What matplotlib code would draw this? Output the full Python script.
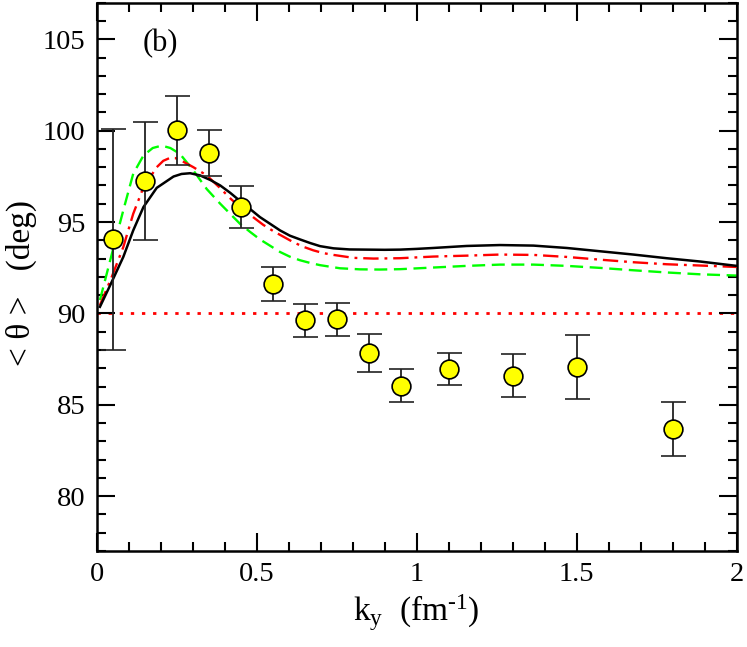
import matplotlib
matplotlib.use("Agg")
import matplotlib.pyplot as plt
from matplotlib.ticker import MultipleLocator

plt.rcParams['font.family'] = ['Liberation Serif', 'DejaVu Serif']
plt.rcParams['mathtext.fontset'] = 'custom'
plt.rcParams['mathtext.rm'] = 'Liberation Serif'
plt.rcParams['mathtext.it'] = 'Liberation Serif:italic'

# experimental points
exp_k = [0.05, 0.15, 0.25, 0.35, 0.45, 0.55, 0.65, 0.75, 0.85, 0.95, 1.10, 1.30, 1.50, 1.80]
exp_theta = [94.05, 97.27, 100.02, 98.76, 95.82, 91.62, 89.63, 89.67, 87.82, 86.05, 86.94, 86.60, 87.07, 83.67]
exp_err = [6.05, 3.23, 1.9, 1.25, 1.17, 0.93, 0.91, 0.89, 1.05, 0.92, 0.87, 1.18, 1.73, 1.46]

# black solid curve
k_black = [0.010, 0.042, 0.083, 0.114, 0.146, 0.1875, 0.24, 0.265, 0.292, 0.323, 0.355, 0.386, 0.417,
           0.448, 0.48, 0.51, 0.542, 0.573, 0.604, 0.635, 0.667, 0.698, 0.74, 0.79, 0.844, 0.9, 0.948,
           1.0, 1.052, 1.156, 1.26, 1.365, 1.469, 1.573, 1.677, 1.781, 1.885, 2.0]
th_black = [90.36, 91.54, 93.09, 94.54, 95.82, 96.87, 97.49, 97.63, 97.67, 97.55, 97.3, 97.0, 96.6,
            96.15, 95.7, 95.27, 94.9, 94.54, 94.25, 94.05, 93.85, 93.68, 93.56, 93.5, 93.49, 93.48, 93.49,
            93.53, 93.58, 93.69, 93.74, 93.71, 93.58, 93.40, 93.22, 93.02, 92.84, 92.60]

# red dash-dot curve
k_red = [0.010, 0.047, 0.083, 0.114, 0.146, 0.1875, 0.208, 0.229, 0.245, 0.26, 0.302, 0.344, 0.386,
         0.42, 0.448, 0.49, 0.52, 0.552, 0.583, 0.614, 0.645, 0.677, 0.708, 0.74, 0.802, 0.865, 0.948,
         1.052, 1.156, 1.26, 1.365, 1.469, 1.573, 1.677, 1.781, 1.885, 2.0]
th_red = [90.45, 92.0, 93.63, 95.45, 96.9, 98.0, 98.35, 98.51, 98.5, 98.4, 98.0, 97.55, 96.85,
          96.25, 95.82, 95.25, 94.85, 94.5, 94.2, 93.9, 93.65, 93.45, 93.3, 93.2, 93.04, 93.0, 93.02,
          93.11, 93.16, 93.22, 93.20, 93.09, 92.94, 92.80, 92.69, 92.62, 92.54]

# green dashed curve
k_green = [0.010, 0.042, 0.083, 0.114, 0.146, 0.175, 0.203, 0.23, 0.26, 0.302, 0.344, 0.386, 0.417,
           0.448, 0.48, 0.51, 0.542, 0.573, 0.604, 0.635, 0.667, 0.698, 0.76, 0.823, 0.885, 0.948,
           1.052, 1.156, 1.26, 1.365, 1.469, 1.573, 1.677, 1.781, 1.885, 2.0]
th_green = [90.73, 92.9, 95.64, 97.64, 98.64, 99.05, 99.18, 99.05, 98.73, 97.82, 96.8, 96.0, 95.45,
            94.9, 94.45, 94.05, 93.7, 93.36, 93.1, 92.91, 92.76, 92.64, 92.47, 92.41, 92.40, 92.42,
            92.51, 92.60, 92.67, 92.67, 92.60, 92.49, 92.36, 92.24, 92.14, 92.07]

ref_level = 90.0

fig = plt.figure(figsize=(7.47, 6.47), dpi=100)
ax = fig.add_axes([0.1295, 0.1484, 0.8567, 0.8474])

ax.axhline(ref_level, color='red', linestyle=(0, (1.2, 2.8)), linewidth=2.0, zorder=1)
ax.plot(k_green, th_green, color='#00ff00', linestyle=(0, (5.5, 2.8)), linewidth=1.7, zorder=2)
ax.plot(k_red, th_red, color='red', linestyle=(0, (6.5, 2.5, 1.2, 2.5)), linewidth=1.7, zorder=3)
ax.plot(k_black, th_black, color='black', linestyle='-', linewidth=1.8, zorder=4)

ax.errorbar(exp_k, exp_theta, yerr=exp_err, fmt='o', markersize=13.5, markerfacecolor='yellow',
            markeredgecolor='black', markeredgewidth=1.2, ecolor='#222222', elinewidth=1.3,
            capsize=9, capthick=1.3, zorder=5)

ax.set_xlim(0, 2)
ax.set_ylim(77, 107)
ax.xaxis.set_major_locator(MultipleLocator(0.5))
ax.xaxis.set_minor_locator(MultipleLocator(0.1))
ax.yaxis.set_major_locator(MultipleLocator(5))
ax.yaxis.set_minor_locator(MultipleLocator(1))
ax.set_xticks([0, 0.5, 1, 1.5, 2])
ax.set_xticklabels(['0', '0.5', '1', '1.5', '2'])
ax.tick_params(which='both', direction='in', top=True, right=True, width=1.5, labelsize=20.5)
ax.tick_params(which='major', length=13, pad=8)
ax.tick_params(which='minor', length=6.5)
for s in ax.spines.values():
    s.set_linewidth(1.8)

ax.set_xlabel('k$_{\\mathrm{y}}$  (fm$^{\\mathrm{\u20101}}$)', fontsize=24, labelpad=4)
ax.set_ylabel('< θ >   (deg)', fontsize=24)
ax.yaxis.set_label_coords(-0.094, 0.488)
ax.text(0.1, 0.925, '(b)', transform=ax.transAxes, fontsize=22, ha='center', va='center')

fig.savefig('out.png', dpi=100)
